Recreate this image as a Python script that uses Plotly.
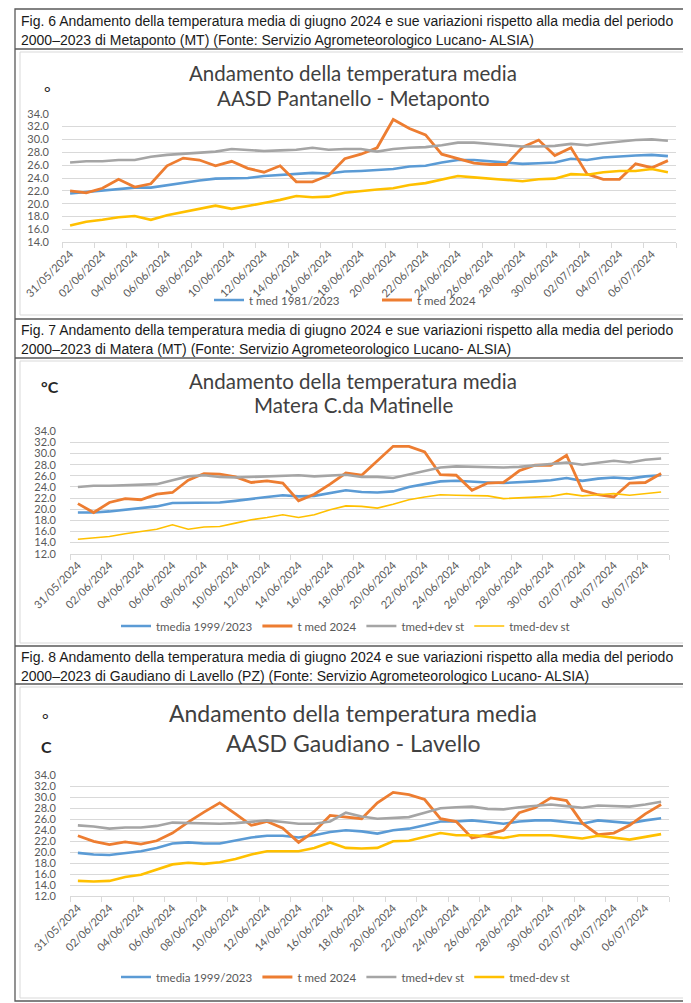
import plotly.graph_objects as go

W, H = 691, 1003

dates = ["31/05/2024",
         "01/06/2024", "02/06/2024", "03/06/2024", "04/06/2024", "05/06/2024",
         "06/06/2024", "07/06/2024", "08/06/2024", "09/06/2024", "10/06/2024",
         "11/06/2024", "12/06/2024", "13/06/2024", "14/06/2024", "15/06/2024",
         "16/06/2024", "17/06/2024", "18/06/2024", "19/06/2024", "20/06/2024",
         "21/06/2024", "22/06/2024", "23/06/2024", "24/06/2024", "25/06/2024",
         "26/06/2024", "27/06/2024", "28/06/2024", "29/06/2024", "30/06/2024",
         "01/07/2024", "02/07/2024", "03/07/2024", "04/07/2024", "05/07/2024",
         "06/07/2024", "07/07/2024"]

# Fig. 6 - AASD Pantanello - Metaponto
met_clim = [21.6, 21.8, 22.1, 22.3, 22.5, 22.5, 22.9, 23.3, 23.6, 23.9, 23.9, 24.0, 24.3, 24.5, 24.7, 24.8, 24.7, 25.0,
            25.1, 25.2, 25.4, 25.8, 25.9, 26.4, 26.8, 26.8, 26.6, 26.4, 26.2, 26.3, 26.4, 27.0, 26.8, 27.2, 27.4, 27.5, 27.6, 27.4]
met_2024 = [22.0, 21.7, 22.4, 23.8, 22.6, 23.1, 25.9, 27.1, 26.8, 25.9, 26.6, 25.5, 24.9, 25.9, 23.4, 23.4, 24.4, 27.0,
            27.7, 28.7, 33.1, 31.7, 30.7, 27.7, 27.0, 26.3, 26.1, 26.1, 28.8, 29.9, 27.5, 28.7, 24.6, 23.8, 23.8, 26.2, 25.6, 26.7]
met_plus = [26.4, 26.6, 26.6, 26.8, 26.8, 27.3, 27.6, 27.8, 28.0, 28.1, 28.5, 28.4, 28.2, 28.3, 28.4, 28.7, 28.4, 28.5,
            28.5, 28.1, 28.5, 28.7, 28.8, 29.1, 29.5, 29.5, 29.3, 29.1, 28.9, 28.9, 29.0, 29.3, 29.1, 29.4, 29.7, 29.9, 30.0, 29.8]
met_minus = [16.6, 17.2, 17.5, 17.9, 18.1, 17.5, 18.2, 18.7, 19.3, 19.7, 19.2, 19.6, 20.1, 20.6, 21.2, 21.0, 21.1, 21.7,
             22.0, 22.2, 22.4, 22.9, 23.2, 23.8, 24.3, 24.1, 23.9, 23.8, 23.5, 23.8, 23.9, 24.6, 24.5, 24.9, 25.1, 25.1, 25.4, 24.9]

# Fig. 7 - Matera C.da Matinelle
mat_clim = [19.4, 19.4, 19.6, 19.9, 20.2, 20.5, 21.1, 21.1, 21.2, 21.2, 21.5, 21.9, 22.2, 22.5, 22.3, 22.4, 22.9, 23.4,
            23.1, 23.0, 23.2, 24.0, 24.5, 25.0, 25.1, 24.9, 24.8, 24.7, 24.8, 25.0, 25.2, 25.6, 25.1, 25.5, 25.7, 25.5, 25.9, 26.1]
mat_2024 = [21.0, 19.4, 21.2, 21.9, 21.7, 22.7, 23.0, 25.2, 26.4, 26.3, 25.8, 24.8, 25.1, 24.7, 21.5, 22.7, 24.5, 26.5,
            26.1, 28.7, 31.3, 31.3, 30.3, 26.2, 26.1, 23.4, 24.7, 24.8, 26.9, 27.9, 27.9, 29.7, 23.4, 22.6, 22.2, 24.7, 24.8, 26.4]
mat_plus = [24.0, 24.2, 24.2, 24.3, 24.5, 24.5, 25.2, 25.9, 26.1, 25.8, 25.7, 25.8, 25.8, 25.9, 26.1, 25.9, 26.1, 26.2,
            25.8, 25.8, 25.6, 26.2, 26.9, 27.5, 27.7, 27.6, 27.5, 27.5, 27.6, 27.9, 28.1, 28.4, 28.0, 28.3, 28.7, 28.4, 28.9, 29.1]
mat_minus = [14.6, 14.8, 15.1, 15.6, 16.0, 16.4, 17.2, 16.4, 16.8, 16.9, 17.5, 18.1, 18.5, 19.0, 18.5, 19.0, 19.9, 20.6,
             20.5, 20.2, 20.9, 21.7, 22.2, 22.6, 22.5, 22.5, 22.4, 21.9, 22.0, 22.2, 22.3, 22.8, 22.4, 22.6, 22.8, 22.5, 22.8, 23.1]

# Fig. 8 - AASD Gaudiano - Lavello
gau_clim = [19.9, 19.6, 19.5, 19.9, 20.2, 20.8, 21.6, 21.8, 21.6, 21.6, 22.2, 22.7, 23.0, 23.0, 22.7, 23.1, 23.7, 24.0,
            23.8, 23.4, 24.0, 24.3, 24.9, 25.6, 25.6, 25.8, 25.5, 25.2, 25.6, 25.8, 25.8, 25.5, 25.2, 25.8, 25.5, 25.3, 25.8, 26.2]
gau_2024 = [23.0, 22.0, 21.4, 21.9, 21.5, 22.1, 23.5, 25.5, 27.3, 29.0, 27.0, 24.9, 25.6, 24.4, 21.8, 23.8, 26.7, 26.4,
            26.1, 29.0, 30.9, 30.5, 29.6, 26.1, 25.6, 22.6, 23.2, 24.0, 27.2, 28.1, 29.9, 29.4, 25.3, 23.2, 23.5, 24.9, 27.0, 28.7]
gau_plus = [24.9, 24.7, 24.3, 24.5, 24.5, 24.8, 25.4, 25.3, 25.2, 25.2, 25.3, 25.5, 25.8, 25.5, 25.2, 25.2, 25.6, 27.2,
            26.5, 26.1, 26.2, 26.4, 27.2, 28.0, 28.2, 28.3, 27.9, 27.8, 28.2, 28.5, 28.7, 28.4, 28.1, 28.5, 28.4, 28.3, 28.7, 29.2]
gau_minus = [14.8, 14.7, 14.8, 15.5, 15.9, 16.8, 17.8, 18.1, 17.9, 18.2, 18.8, 19.6, 20.2, 20.2, 20.2, 20.8, 21.8, 20.8,
             20.7, 20.8, 22.0, 22.1, 22.8, 23.5, 23.1, 23.1, 22.9, 22.6, 23.1, 23.1, 23.1, 22.8, 22.5, 23.0, 22.6, 22.3, 22.8, 23.3]

captions = [
    ("Fig. 6 Andamento della temperatura media di giugno 2024 e sue variazioni rispetto alla media del periodo",
     "2000–2023 di Metaponto (MT) (Fonte: Servizio Agrometeorologico Lucano- ALSIA)"),
    ("Fig. 7 Andamento della temperatura media di giugno 2024 e sue variazioni rispetto alla media del periodo",
     "2000–2023 di Matera (MT) (Fonte: Servizio Agrometeorologico Lucano- ALSIA)"),
    ("Fig. 8 Andamento della temperatura media di giugno 2024 e sue variazioni rispetto alla media del periodo",
     "2000–2023 di Gaudiano di Lavello (PZ) (Fonte: Servizio Agrometeorologico Lucano- ALSIA)"),
]
titles = [("Andamento della temperatura media", "AASD Pantanello - Metaponto"),
          ("Andamento della temperatura media", "Matera C.da Matinelle"),
          ("Andamento della temperatura media", "AASD Gaudiano - Lavello")]

BLUE, ORANGE, GRAY, YELLOW = "#5B9BD5", "#ED7D31", "#A5A5A5", "#FFC000"
FONT = "Lato"


def px(x):
    return x / W


def py(y):
    return 1 - y / H


x_idx = list(range(len(dates)))

charts = [
    dict(x0=54, x1=668, ytop=105.7, ybot=234.3, ymin=14, ymax=34, standoff=12,
         series=[(met_clim, "t med 1981/2023", BLUE, 2.6, True),
                 (met_2024, "t med 2024", ORANGE, 2.8, True),
                 (met_plus, "tmed+dev st", GRAY, 2.6, False),
                 (met_minus, "tmed-dev st", YELLOW, 2.6, False)],
         legend=(201, 292), entrywidth=123),
    dict(x0=62, x1=661, ytop=423.3, ybot=545.7, ymin=12, ymax=34, standoff=13,
         series=[(mat_clim, "tmedia 1999/2023", BLUE, 2.6, True),
                 (mat_2024, "t med 2024", ORANGE, 2.8, True),
                 (mat_plus, "tmed+dev st", GRAY, 2.6, True),
                 (mat_minus, "tmed-dev st", YELLOW, 1.6, True)],
         legend=(108, 618), entrywidth=None),
    dict(x0=62, x1=661, ytop=767.3, ybot=888.3, ymin=12, ymax=34, standoff=13,
         series=[(gau_clim, "tmedia 1999/2023", BLUE, 2.6, True),
                 (gau_2024, "t med 2024", ORANGE, 2.8, True),
                 (gau_plus, "tmed+dev st", GRAY, 2.6, True),
                 (gau_minus, "tmed-dev st", YELLOW, 2.6, True)],
         legend=(108, 969), entrywidth=None),
]

fig = go.Figure()
layout = {}
for k, c in enumerate(charts, start=1):
    xa = "x" if k == 1 else f"x{k}"
    ya = "y" if k == 1 else f"y{k}"
    lg = "legend" if k == 1 else f"legend{k}"
    for vals, name, color, width, show in c["series"]:
        fig.add_trace(go.Scatter(x=x_idx, y=vals, mode="lines", name=name,
                                 line=dict(color=color, width=width),
                                 xaxis=xa, yaxis=ya, legend=lg, showlegend=show))
    layout["xaxis" if k == 1 else f"xaxis{k}"] = dict(
        domain=[px(c["x0"]), px(c["x1"])], anchor=ya, range=[-0.5, len(dates) - 0.5],
        tickmode="array", tickvals=x_idx[::2], ticktext=dates[::2], tickangle=-45,
        ticks="", showline=True, linecolor="#D9D9D9", linewidth=1, showgrid=False,
        zeroline=False, automargin=False,
        tickfont=dict(family=FONT, size=11, color="#595959"),
        minor=dict(tickmode="array", tickvals=[i - 0.5 for i in range(0, len(dates) + 1, 2)],
                   ticks="outside", ticklen=5, tickcolor="#D9D9D9", showgrid=False))
    layout["yaxis" if k == 1 else f"yaxis{k}"] = dict(
        domain=[py(c["ybot"]), py(c["ytop"])], anchor=xa, range=[c["ymin"], c["ymax"]],
        tick0=0, dtick=2, tickformat=".1f", showgrid=True, gridcolor="#D9D9D9", gridwidth=1,
        zeroline=False, showline=False, ticks="", automargin=False, ticklabelstandoff=c["standoff"],
        tickfont=dict(family=FONT, size=11, color="#595959"))
    lx, ly = c["legend"]
    leg = dict(x=px(lx), y=py(ly), xanchor="left", yanchor="middle", orientation="h",
               font=dict(family=FONT, size=11.5, color="#595959"),
               bgcolor="rgba(0,0,0,0)", itemwidth=30, tracegroupgap=0)
    if c["entrywidth"]:
        leg["entrywidth"] = c["entrywidth"]
        leg["entrywidthmode"] = "pixels"
    layout[lg] = leg

annotations = []
cap_y = [(13, 32), (322, 341), (649, 668)]
for (l1, l2), (y1, y2) in zip(captions, cap_y):
    for txt, yy in ((l1, y1), (l2, y2)):
        annotations.append(dict(text=txt, x=px(11), y=py(yy), xref="paper", yref="paper",
                                xanchor="left", yanchor="middle", showarrow=False,
                                font=dict(family="Liberation Sans Narrow, Liberation Sans", size=14, color="#1A1A1A")))

title_specs = [((65, 90), 20.5), ((373, 397), 20.5), ((705, 735), 23)]
for (t1, t2), ((y1, y2), fs) in zip(titles, title_specs):
    for txt, yy in ((t1, y1), (t2, y2)):
        annotations.append(dict(text=txt, x=px(345), y=py(yy), xref="paper", yref="paper",
                                xanchor="center", yanchor="middle", showarrow=False,
                                font=dict(family=FONT, size=fs, color="#404040")))

unit_marks = [("°", 39, 83, False), ("°C", 42, 378, True), ("°", 37, 710, False), ("C", 38, 738, True)]
for txt, xx, yy, bold in unit_marks:
    annotations.append(dict(text=f"<b>{txt}</b>" if bold else txt, x=px(xx), y=py(yy), xref="paper", yref="paper",
                            xanchor="center", yanchor="middle", showarrow=False,
                            font=dict(family=FONT, size=16, color="#262626")))

shapes = []
# outer frame and dividers
shapes.append(dict(type="rect", xref="paper", yref="paper", x0=px(7), x1=px(683), y0=py(993), y1=py(1),
                   line=dict(color="#595959", width=1.3)))
for yy in (41, 311, 350, 638, 676):
    shapes.append(dict(type="line", xref="paper", yref="paper", x0=px(7), x1=px(683), y0=py(yy), y1=py(yy),
                       line=dict(color="#595959", width=1.3)))
# inner chart-area borders
for (t, b) in ((44, 307), (353, 635), (679, 990)):
    shapes.append(dict(type="rect", xref="paper", yref="paper", x0=px(12), x1=px(678), y0=py(b), y1=py(t),
                       line=dict(color="#D9D9D9", width=1)))

fig.update_layout(width=W, height=H, margin=dict(l=0, r=0, t=0, b=0),
                  paper_bgcolor="white", plot_bgcolor="white",
                  annotations=annotations, shapes=shapes, **layout)

fig.write_html("out.html")
